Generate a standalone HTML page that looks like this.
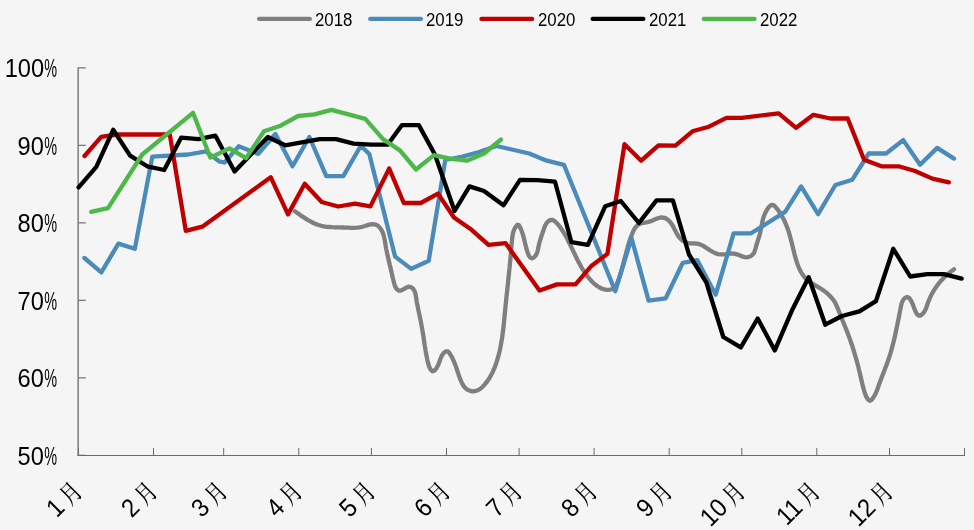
<!DOCTYPE html>
<html lang="zh">
<head>
<meta charset="utf-8">
<title>Chart</title>
<style>
html,body{margin:0;padding:0;background:#f5f5f5;}
body{width:974px;height:530px;overflow:hidden;position:relative;font-family:"Liberation Sans","Noto Serif CJK SC",sans-serif;color:#000;}
svg{display:block;position:absolute;left:0;top:0;}
.yl,.xl,.lg{position:absolute;white-space:nowrap;line-height:1;}
.yl{right:915.7px;font-size:25.7px;transform:scaleX(0.92);transform-origin:100% 50%;}
.pc{display:inline-block;transform:scaleX(0.61);transform-origin:0 50%;margin-right:-7px;}
.xl{top:473.6px;font-size:25.7px;transform:translateX(-100%) rotate(-45deg) scaleX(0.92);transform-origin:100% 50%;}
.mo{font-family:"Liberation Sans","Noto Serif CJK SC",serif;font-weight:500;font-size:25px;display:inline-block;transform:scaleX(0.8);transform-origin:100% 50%;margin-left:0.6px;margin-right:0px;position:relative;top:1.4px;}
.lg{top:11px;font-size:18.3px;transform:scaleX(0.92);transform-origin:0 50%;}
</style>
</head>
<body>
<svg width="974" height="530" viewBox="0 0 974 530">
<rect width="974" height="530" fill="#f5f5f5"/>
<g stroke="#7a7a7a" stroke-width="1.45" fill="none">
<path d="M78.15,67.20 V456.0"/>
<path d="M78.15,67.85 h7.6" stroke-width="1.3"/>
<path d="M78.15,145.35 h7.6" stroke-width="1.3"/>
<path d="M78.15,222.85 h7.6" stroke-width="1.3"/>
<path d="M78.15,300.35 h7.6" stroke-width="1.3"/>
<path d="M78.15,377.85 h7.6" stroke-width="1.3"/>
<path d="M78.15,455.35 h7.6" stroke-width="1.3"/>
</g>
<g stroke="#6b6b6b" stroke-width="1" fill="none">
<path d="M77.55000000000001,455.5 H965.0"/>
<path d="M78.5,455.5 v-7.5"/>
<path d="M153.5,455.5 v-7.5"/>
<path d="M223.7,455.5 v-7.5"/>
<path d="M298.8,455.5 v-7.5"/>
<path d="M371.4,455.5 v-7.5"/>
<path d="M446.5,455.5 v-7.5"/>
<path d="M519.1,455.5 v-7.5"/>
<path d="M594.1,455.5 v-7.5"/>
<path d="M669.2,455.5 v-7.5"/>
<path d="M741.8,455.5 v-7.5"/>
<path d="M816.8,455.5 v-7.5"/>
<path d="M889.5,455.5 v-7.5"/>
<path d="M964.5,455.5 v-7.5"/>
</g>
<g fill="none" stroke-width="4.3" stroke-linecap="round" stroke-linejoin="round">
<path stroke="#7f7f7f" d="M294.8,211.2 L297.0,212.7 L299.2,214.3 L301.4,215.9 L303.7,217.4 L306.1,218.9 L308.5,220.4 L310.9,221.7 L313.4,223.0 L315.9,224.1 L318.5,225.0 L321.2,225.8 L323.8,226.4 L326.5,226.8 L329.3,227.0 L332.0,227.2 L334.8,227.3 L337.6,227.3 L340.3,227.4 L343.1,227.5 L345.8,227.6 L348.5,227.7 L351.2,227.8 L353.9,227.8 L356.7,227.7 L359.4,227.4 L362.2,226.8 L365.0,226.0 L367.7,225.1 L370.5,224.3 L373.1,224.1 L375.5,224.5 L377.7,225.7 L379.7,227.5 L381.3,229.7 L382.6,232.2 L383.5,234.8 L384.2,237.5 L384.8,240.3 L385.2,243.0 L385.7,245.8 L386.1,248.6 L386.7,251.3 L387.3,254.0 L387.9,256.7 L388.5,259.3 L389.1,262.0 L389.7,264.6 L390.4,267.3 L391.0,269.9 L391.6,272.6 L392.2,275.3 L392.8,278.0 L393.5,280.7 L394.2,283.5 L395.0,286.2 L396.4,288.6 L398.4,290.5 L400.8,290.7 L403.3,289.4 L405.9,287.8 L408.5,286.7 L411.0,287.1 L413.2,288.8 L414.6,291.1 L415.5,293.7 L415.9,296.5 L416.4,299.3 L416.8,302.1 L417.3,304.8 L417.9,307.5 L418.4,310.2 L419.0,312.9 L419.6,315.6 L420.1,318.3 L420.7,320.9 L421.2,323.6 L421.7,326.3 L422.2,329.0 L422.6,331.7 L423.1,334.4 L423.5,337.1 L423.9,339.9 L424.3,342.6 L424.7,345.3 L425.2,348.1 L425.6,350.8 L426.1,353.5 L426.6,356.2 L427.1,358.9 L427.7,361.6 L428.4,364.3 L429.3,367.0 L430.6,369.5 L432.4,371.3 L434.5,370.6 L436.4,368.3 L437.8,365.8 L438.9,363.2 L439.8,360.7 L440.7,358.1 L441.9,355.5 L443.5,353.2 L445.8,351.3 L448.0,351.4 L449.8,353.6 L451.3,356.1 L452.6,358.6 L453.7,361.0 L454.8,363.5 L455.7,365.9 L456.6,368.4 L457.4,371.0 L458.3,373.6 L459.2,376.4 L460.2,379.2 L461.4,381.9 L462.7,384.5 L464.2,386.8 L466.1,388.7 L468.2,390.1 L470.6,391.0 L473.1,391.3 L475.8,390.9 L478.3,390.0 L480.7,388.5 L482.9,386.5 L484.8,384.4 L486.6,382.1 L488.3,379.9 L489.8,377.5 L491.1,375.1 L492.4,372.7 L493.5,370.2 L494.5,367.8 L495.5,365.2 L496.4,362.7 L497.2,360.1 L498.0,357.5 L498.7,354.8 L499.4,352.2 L500.0,349.5 L500.5,346.8 L501.0,344.1 L501.5,341.4 L502.0,338.7 L502.4,335.9 L502.7,333.2 L503.1,330.4 L503.4,327.6 L503.7,324.9 L504.0,322.1 L504.3,319.3 L504.5,316.6 L504.8,313.8 L505.1,311.1 L505.3,308.3 L505.6,305.6 L505.9,302.8 L506.2,300.1 L506.4,297.4 L506.7,294.7 L507.0,291.9 L507.3,289.2 L507.6,286.5 L507.9,283.8 L508.2,281.1 L508.4,278.4 L508.7,275.7 L509.0,272.9 L509.3,270.2 L509.6,267.5 L509.8,264.8 L510.1,262.0 L510.4,259.3 L510.6,256.5 L510.9,253.8 L511.1,251.0 L511.3,248.2 L511.5,245.4 L511.8,242.6 L512.0,239.8 L512.3,237.0 L512.8,234.3 L513.4,231.6 L514.4,229.1 L515.7,226.8 L517.4,224.8 L519.1,225.4 L520.5,228.2 L521.7,231.0 L522.6,233.7 L523.4,236.2 L524.0,238.7 L524.6,241.2 L525.2,243.7 L525.8,246.4 L526.6,249.2 L527.5,252.2 L528.7,255.3 L530.2,257.6 L532.0,258.4 L534.1,257.4 L535.9,255.2 L537.1,252.7 L537.9,250.0 L538.4,247.2 L539.0,244.4 L539.7,241.7 L540.5,239.1 L541.3,236.5 L542.2,233.9 L543.1,231.3 L543.9,228.8 L544.8,226.2 L546.2,223.7 L548.1,221.4 L550.5,219.9 L552.9,220.0 L555.2,221.6 L557.3,223.7 L559.1,225.8 L560.7,228.0 L562.2,230.2 L563.7,232.5 L565.1,234.9 L566.4,237.3 L567.7,239.7 L568.9,242.2 L570.2,244.7 L571.4,247.2 L572.6,249.7 L573.8,252.2 L575.0,254.7 L576.2,257.2 L577.4,259.7 L578.7,262.2 L580.0,264.6 L581.3,267.0 L582.7,269.4 L584.2,271.7 L585.7,273.9 L587.3,276.1 L589.0,278.2 L590.8,280.3 L592.7,282.2 L594.7,284.1 L596.9,285.8 L599.1,287.3 L601.6,288.5 L604.2,289.4 L607.0,289.8 L610.1,289.7 L612.9,289.0 L615.0,287.4 L616.4,285.1 L617.4,282.6 L618.4,280.0 L619.3,277.4 L620.2,274.7 L621.0,272.1 L621.8,269.4 L622.5,266.7 L623.2,264.1 L623.9,261.4 L624.6,258.7 L625.3,256.1 L626.0,253.4 L626.7,250.8 L627.4,248.2 L628.1,245.6 L628.9,243.0 L629.7,240.4 L630.6,237.8 L631.6,235.2 L632.7,232.5 L633.9,229.9 L635.4,227.5 L637.2,225.5 L639.3,224.0 L641.9,223.1 L644.7,222.6 L647.5,222.1 L650.1,221.4 L652.6,220.4 L655.2,219.3 L657.9,218.3 L660.6,217.5 L663.3,217.6 L665.8,218.4 L668.2,220.0 L670.1,221.9 L671.7,224.1 L673.2,226.5 L674.4,229.0 L675.7,231.5 L677.0,234.0 L678.5,236.4 L680.2,238.5 L682.2,240.3 L684.6,241.7 L687.3,242.8 L690.0,243.3 L692.9,243.4 L695.6,243.5 L698.3,243.9 L700.8,244.7 L703.2,245.9 L705.5,247.4 L707.9,248.9 L710.3,250.5 L712.7,251.9 L715.2,253.1 L717.8,254.0 L720.4,254.4 L723.1,254.4 L725.9,254.1 L728.7,253.7 L731.5,253.5 L734.3,253.6 L736.9,254.3 L739.5,255.3 L742.1,256.4 L744.7,257.1 L747.4,257.3 L750.0,256.5 L752.3,255.0 L754.0,252.9 L755.0,250.3 L755.8,247.6 L756.5,244.8 L757.4,242.1 L758.2,239.4 L759.1,236.8 L759.8,234.2 L760.4,231.6 L761.0,228.9 L761.5,226.3 L762.0,223.7 L762.5,221.0 L763.2,218.4 L764.1,215.7 L765.2,213.0 L766.6,210.4 L768.3,207.8 L770.3,205.6 L772.3,204.8 L774.4,205.8 L776.3,207.9 L778.1,210.1 L779.7,212.5 L781.2,214.9 L782.6,217.3 L783.9,219.7 L785.1,222.2 L786.1,224.8 L787.1,227.3 L788.1,229.9 L788.9,232.5 L789.7,235.1 L790.4,237.8 L791.1,240.4 L791.8,243.1 L792.5,245.8 L793.1,248.5 L793.8,251.1 L794.4,253.8 L795.1,256.5 L795.9,259.1 L796.7,261.8 L797.6,264.4 L798.6,267.0 L799.7,269.5 L801.0,272.0 L802.4,274.3 L804.0,276.5 L805.7,278.5 L807.7,280.3 L809.9,282.0 L812.2,283.5 L814.5,285.0 L817.0,286.4 L819.4,287.8 L821.8,289.3 L824.1,290.9 L826.3,292.6 L828.4,294.4 L830.3,296.3 L832.1,298.4 L833.8,300.5 L835.2,302.8 L836.4,305.3 L837.5,307.8 L838.6,310.4 L839.6,313.0 L840.6,315.6 L841.6,318.1 L842.6,320.7 L843.7,323.2 L844.7,325.7 L845.8,328.3 L846.8,330.8 L847.8,333.4 L848.7,336.0 L849.7,338.6 L850.6,341.2 L851.5,343.8 L852.4,346.4 L853.2,349.0 L854.0,351.6 L854.8,354.3 L855.6,356.9 L856.4,359.6 L857.1,362.2 L857.8,364.9 L858.5,367.5 L859.1,370.2 L859.8,372.8 L860.4,375.5 L861.0,378.2 L861.6,380.8 L862.2,383.5 L862.9,386.2 L863.6,388.9 L864.4,391.6 L865.3,394.3 L866.4,396.9 L867.9,399.4 L869.8,400.8 L871.7,399.8 L873.4,397.5 L874.8,395.1 L876.0,392.6 L877.1,390.1 L878.0,387.5 L878.9,384.8 L879.9,382.2 L880.8,379.6 L881.8,377.1 L882.8,374.5 L883.8,371.9 L884.8,369.4 L885.8,366.8 L886.8,364.2 L887.7,361.6 L888.6,359.0 L889.5,356.4 L890.3,353.8 L891.1,351.2 L891.8,348.5 L892.5,345.9 L893.2,343.2 L893.9,340.5 L894.5,337.9 L895.1,335.2 L895.7,332.5 L896.3,329.8 L896.8,327.1 L897.4,324.4 L897.9,321.7 L898.5,319.0 L899.0,316.3 L899.5,313.6 L900.1,310.9 L900.6,308.2 L901.1,305.5 L901.8,302.8 L902.9,300.3 L904.8,298.0 L907.2,297.0 L909.4,298.2 L911.1,300.7 L912.3,303.2 L913.3,305.6 L914.2,308.2 L915.3,311.1 L916.7,313.8 L918.4,315.5 L920.6,315.5 L922.8,313.7 L924.6,311.4 L925.8,308.9 L926.8,306.3 L927.6,303.7 L928.6,301.1 L929.7,298.5 L930.8,296.0 L932.1,293.6 L933.4,291.2 L934.9,288.9 L936.4,286.6 L938.0,284.4 L939.7,282.2 L941.5,280.2 L943.4,278.2 L945.4,276.2 L947.4,274.4 L949.6,272.6 L951.8,270.9 L954.0,269.3"/>
<path stroke="#4a8bba" d="M84.4,258.0 L101.3,272.4 L118.4,243.6 L134.8,248.8 L152.3,156.6 L188.3,154.5 L205.8,151.4 L219.0,161.3 L224.5,162.5 L238.7,146.3 L258.3,153.9 L275.4,134.0 L292.5,166.3 L309.4,137.0 L326.3,176.1 L343.3,176.1 L360.8,145.7 L369.3,154.0 L395.1,256.6 L411.2,268.9 L428.7,260.7 L445.3,160.0 L462.5,156.6 L479.0,152.0 L496.5,146.0 L529.2,153.5 L546.7,160.7 L563.9,164.8 L615.3,291.2 L631.5,238.0 L648.6,300.6 L665.7,298.3 L682.8,262.8 L697.2,260.1 L715.7,294.7 L733.6,233.3 L751.1,233.3 L785.1,211.9 L801.1,186.4 L818.1,214.2 L835.4,185.0 L852.2,179.8 L868.7,153.5 L886.1,153.5 L903.2,140.1 L920.1,164.8 L937.2,147.9 L954.0,158.6"/>
<path stroke="#c00000" d="M84.5,156.0 L101.2,136.8 L117.0,134.5 L169.8,134.5 L185.8,230.9 L202.3,226.7 L270.7,177.2 L288.0,214.4 L304.7,183.7 L321.7,202.0 L338.2,206.5 L355.0,203.6 L370.4,206.4 L389.2,168.5 L403.8,203.0 L420.8,203.0 L438.0,193.6 L454.0,217.5 L471.6,229.8 L488.5,244.9 L505.6,243.2 L539.5,290.5 L557.0,284.4 L575.5,284.4 L591.0,266.3 L607.4,253.9 L624.5,144.2 L641.2,160.7 L658.5,145.3 L675.4,145.7 L692.5,131.3 L708.9,126.7 L726.4,117.9 L741.9,117.9 L778.7,113.4 L796.1,127.8 L813.4,114.8 L830.5,118.5 L847.7,118.5 L864.1,159.7 L881.4,166.3 L898.5,166.3 L915.0,171.0 L932.4,178.6 L948.9,182.3"/>
<path stroke="#000000" d="M78.6,187.4 L96.3,166.9 L113.2,129.8 L130.1,155.6 L147.2,166.3 L164.2,170.0 L181.1,137.7 L198.6,139.1 L215.3,135.6 L234.6,171.4 L267.8,137.0 L285.1,145.3 L319.7,139.1 L336.1,139.1 L353.6,143.6 L371.1,144.7 L387.6,144.7 L402.0,125.1 L418.8,125.1 L434.9,154.5 L454.6,211.0 L469.5,186.4 L484.0,191.0 L503.5,205.3 L520.0,179.8 L537.4,180.2 L555.0,181.7 L571.4,242.2 L587.9,244.9 L605.3,206.2 L620.8,201.0 L638.9,223.0 L656.5,200.4 L672.9,200.4 L689.0,254.5 L706.3,282.3 L723.3,337.0 L740.8,347.3 L757.7,318.5 L774.8,350.4 L791.8,310.8 L808.7,277.2 L825.3,324.7 L841.9,316.0 L859.4,311.3 L875.9,301.2 L893.3,248.8 L910.2,276.5 L927.3,274.1 L943.8,274.1 L961.7,278.6"/>
<path stroke="#4db749" d="M91.2,211.9 L108.0,208.2 L142.2,154.5 L193.0,112.8 L210.3,157.6 L229.5,148.4 L246.0,158.2 L264.0,131.3 L280.6,125.7 L298.1,116.0 L314.5,114.4 L331.4,109.9 L348.5,114.4 L365.3,118.9 L383.0,139.1 L399.9,150.4 L416.0,169.5 L433.9,155.1 L450.0,158.6 L466.9,160.7 L484.0,153.5 L501.0,139.5"/>
</g>
<path d="M259.15,18.9 H309.85" stroke="#7f7f7f" stroke-width="4.3" stroke-linecap="round" fill="none"/>
<path d="M370.25,18.9 H420.95" stroke="#4a8bba" stroke-width="4.3" stroke-linecap="round" fill="none"/>
<path d="M481.45,18.9 H532.15" stroke="#c00000" stroke-width="4.3" stroke-linecap="round" fill="none"/>
<path d="M592.65,18.9 H643.35" stroke="#000000" stroke-width="4.3" stroke-linecap="round" fill="none"/>
<path d="M703.85,18.9 H754.55" stroke="#4db749" stroke-width="4.3" stroke-linecap="round" fill="none"/>
</svg>
<div class="yl" style="top:56.0px">100<span class="pc">%</span></div>
<div class="yl" style="top:133.6px">90<span class="pc">%</span></div>
<div class="yl" style="top:211.2px">80<span class="pc">%</span></div>
<div class="yl" style="top:288.8px">70<span class="pc">%</span></div>
<div class="yl" style="top:366.4px">60<span class="pc">%</span></div>
<div class="yl" style="top:444.0px">50<span class="pc">%</span></div>
<div class="xl" style="left:76.7px">1<span class="mo">月</span></div>
<div class="xl" style="left:151.7px">2<span class="mo">月</span></div>
<div class="xl" style="left:221.9px">3<span class="mo">月</span></div>
<div class="xl" style="left:297.0px">4<span class="mo">月</span></div>
<div class="xl" style="left:369.6px">5<span class="mo">月</span></div>
<div class="xl" style="left:444.7px">6<span class="mo">月</span></div>
<div class="xl" style="left:517.3px">7<span class="mo">月</span></div>
<div class="xl" style="left:592.3px">8<span class="mo">月</span></div>
<div class="xl" style="left:667.4px">9<span class="mo">月</span></div>
<div class="xl" style="left:740.0px">10<span class="mo">月</span></div>
<div class="xl" style="left:815.0px">11<span class="mo">月</span></div>
<div class="xl" style="left:887.7px">12<span class="mo">月</span></div>
<div class="lg" style="left:315.2px">2018</div>
<div class="lg" style="left:426.3px">2019</div>
<div class="lg" style="left:537.5px">2020</div>
<div class="lg" style="left:648.7px">2021</div>
<div class="lg" style="left:759.9px">2022</div>
</body>
</html>
